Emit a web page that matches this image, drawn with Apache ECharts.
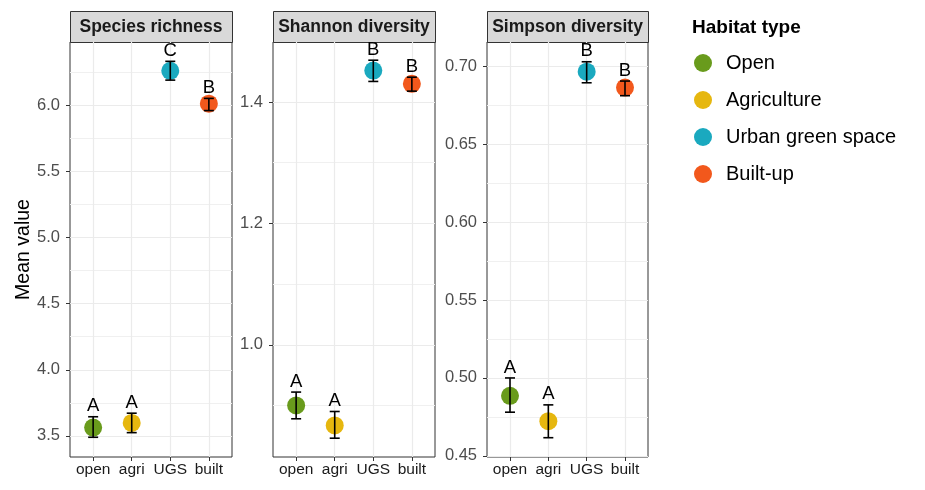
<!DOCTYPE html>
<html><head><meta charset="utf-8">
<script src="https://cdn.jsdelivr.net/npm/echarts@6/dist/echarts.min.js"></script>
<style>html,body{margin:0;padding:0;background:#fff}#c{width:925px;height:490px}</style>
</head><body><div id="c"></div>
<script>
// ---- data ----
const categories = ['open', 'agri', 'UGS', 'built'];
const habitats = ['Open', 'Agriculture', 'Urban green space', 'Built-up'];
const panelTitles = ['Species richness', 'Shannon diversity', 'Simpson diversity'];

const richnessMean = [3.563, 3.598, 6.258, 6.010];
const richnessLow = [3.490, 3.525, 6.188, 5.958];
const richnessHigh = [3.645, 3.672, 6.330, 6.050];
const richnessLetters = ['A', 'A', 'C', 'B'];

const shannonMean = [0.900, 0.867, 1.452, 1.430];
const shannonLow = [0.878, 0.846, 1.434, 1.418];
const shannonHigh = [0.922, 0.890, 1.469, 1.441];
const shannonLetters = ['A', 'A', 'B', 'B'];

const simpsonMean = [0.4885, 0.4722, 0.6968, 0.6866];
const simpsonLow = [0.4780, 0.4616, 0.6897, 0.6814];
const simpsonHigh = [0.5000, 0.4827, 0.7032, 0.6908];
const simpsonLetters = ['A', 'A', 'B', 'B'];

const richnessTicks = [3.5, 4.0, 4.5, 5.0, 5.5, 6.0];
const richnessMinor = [3.75, 4.25, 4.75, 5.25, 5.75, 6.25];
const shannonTicks = [1.0, 1.2, 1.4];
const shannonMinor = [0.9, 1.1, 1.3];
const simpsonTicks = [0.45, 0.50, 0.55, 0.60, 0.65, 0.70];
const simpsonMinor = [0.475, 0.525, 0.575, 0.625, 0.675];

const richnessRange = [3.341, 6.476];
const shannonRange = [0.815, 1.499];
const simpsonRange = [0.4492, 0.7159];

// ---- styling / layout ----
const colors = ['#699B1C', '#E6B70F', '#1AA9BF', '#F2581C'];
const FONT = "'Liberation Sans', Arial, sans-serif";

const panels = [
  { mean: richnessMean, low: richnessLow, high: richnessHigh, letters: richnessLetters, ticks: richnessTicks, minor: richnessMinor, range: richnessRange, dec: 1 },
  { mean: shannonMean, low: shannonLow, high: shannonHigh, letters: shannonLetters, ticks: shannonTicks, minor: shannonMinor, range: shannonRange, dec: 1 },
  { mean: simpsonMean, low: simpsonLow, high: simpsonHigh, letters: simpsonLetters, ticks: simpsonTicks, minor: simpsonMinor, range: simpsonRange, dec: 2 }
];
const gridBoxes = [
  { left: 70, width: 162 },
  { left: 273, width: 162 },
  { left: 487, width: 161 }
];
const GRID_TOP = 42, GRID_H = 415, STRIP_TOP = 11;

const grid = [], xAxis = [], yAxis = [], series = [], graphic = [];

panels.forEach((p, k) => {
  const g = gridBoxes[k];
  grid.push({ left: g.left, top: GRID_TOP, width: g.width, height: GRID_H, show: true,
    borderColor: '#333333', borderWidth: 1, backgroundColor: '#fff', containLabel: false });

  xAxis.push({ type: 'value', gridIndex: k, min: -0.6, max: 3.6, position: 'bottom',
    axisLine: { show: false },
    axisTick: { show: true, length: 4, lineStyle: { color: '#333' }, customValues: [0, 1, 2, 3] },
    axisLabel: { customValues: [0, 1, 2, 3], margin: 5, color: '#1a1a1a', fontSize: 15.5, fontFamily: FONT,
      formatter: v => categories[Math.round(v)] },
    splitLine: { show: true, lineStyle: { color: '#EBEBEB', width: 1.2 } }
  });

  // minor grid axis
  yAxis.push({ type: 'value', gridIndex: k, min: p.range[0], max: p.range[1], position: 'left', offset: 0,
    axisLine: { show: false },
    axisTick: { show: false, customValues: p.minor },
    axisLabel: { show: false, customValues: p.minor },
    splitLine: { show: true, lineStyle: { color: '#F0F0F0', width: 1 } }
  });
  // major axis
  const ya = { type: 'value', gridIndex: k, min: p.range[0], max: p.range[1], position: 'left', offset: 0,
    axisLine: { show: false },
    axisTick: { show: true, length: 4, lineStyle: { color: '#333' }, customValues: p.ticks },
    axisLabel: { customValues: p.ticks, margin: 10, color: '#4D4D4D', fontSize: 16.5, fontFamily: FONT,
      formatter: v => v.toFixed(p.dec) },
    splitLine: { show: true, lineStyle: { color: '#EBEBEB', width: 1.2 } }
  };
  if (k === 0) {
    ya.name = 'Mean value';
    ya.nameLocation = 'middle';
    ya.nameGap = 36;
    ya.nameTextStyle = { fontSize: 19.5, color: '#000', fontFamily: FONT };
  }
  yAxis.push(ya);
  const yIdx = 2 * k + 1;

  habitats.forEach((h, i) => {
    series.push({ type: 'scatter', name: h, xAxisIndex: k, yAxisIndex: yIdx,
      symbol: 'circle', symbolSize: 18, itemStyle: { color: colors[i], opacity: 1 },
      data: [[i, p.mean[i]]], z: 2, silent: true });
  });

  series.push({ type: 'custom', xAxisIndex: k, yAxisIndex: yIdx, z: 5, silent: true,
    data: categories.map((c, i) => [i, p.mean[i], p.low[i], p.high[i], i]),
    renderItem: (params, api) => {
      const x = api.value(0);
      const top = api.coord([x, api.value(3)]);
      const bot = api.coord([x, api.value(2)]);
      const hw = 5;
      const ls = { stroke: '#000', lineWidth: 1.6 };
      const idx = api.value(4);
      return { type: 'group', children: [
        { type: 'line', shape: { x1: top[0], y1: top[1], x2: bot[0], y2: bot[1] }, style: ls },
        { type: 'line', shape: { x1: top[0] - hw, y1: top[1], x2: top[0] + hw, y2: top[1] }, style: ls },
        { type: 'line', shape: { x1: bot[0] - hw, y1: bot[1], x2: bot[0] + hw, y2: bot[1] }, style: ls },
        { type: 'text', style: { text: p.letters[idx], x: top[0], y: top[1] - 1,
            align: 'center', verticalAlign: 'bottom', fill: '#000', fontSize: 18.5, fontFamily: FONT } }
      ]};
    }
  });

  graphic.push({ type: 'rect', left: g.left, top: STRIP_TOP,
    shape: { width: g.width, height: GRID_TOP - STRIP_TOP },
    style: { fill: '#D9D9D9', stroke: '#333333', lineWidth: 1 }, silent: true });
  graphic.push({ type: 'text', x: g.left + g.width / 2, y: (STRIP_TOP + GRID_TOP) / 2 + 1,
    style: { text: panelTitles[k], align: 'center', verticalAlign: 'middle', fill: '#1a1a1a',
      fontSize: 17.5, fontWeight: 'bold', fontFamily: FONT }, silent: true });
});

const chart = echarts.init(document.getElementById('c'), null, { renderer: 'canvas' });
chart.setOption({
  backgroundColor: '#fff',
  animation: false,
  title: { text: 'Habitat type', left: 692, top: 18, padding: 0,
    textStyle: { fontSize: 19, fontWeight: 'bold', color: '#000', fontFamily: FONT } },
  legend: { data: habitats, orient: 'vertical', left: 694, top: 53, padding: 0,
    icon: 'circle', itemWidth: 36, itemHeight: 18, itemGap: 17,
    textStyle: { fontSize: 20, lineHeight: 20, color: '#000', fontFamily: FONT }, selectedMode: false },
  grid, xAxis, yAxis, series, graphic
});
</script></body></html>
